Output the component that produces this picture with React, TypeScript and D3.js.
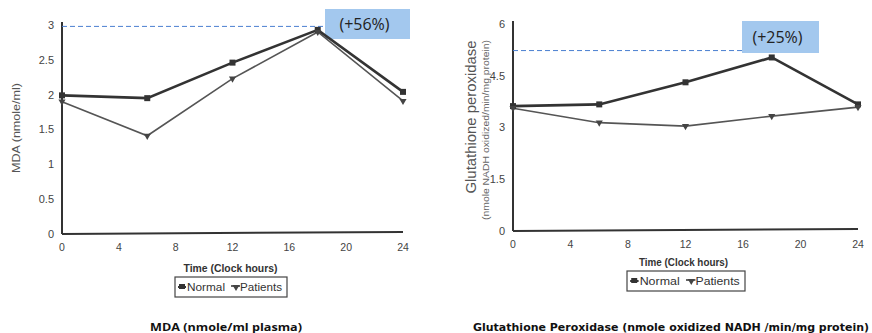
import React from "react";
import * as d3 from "d3";

// time points (clock hours)
const hours = [0, 6, 12, 18, 24];
const xTicks = [0, 4, 8, 12, 16, 20, 24];

// MDA (nmole/ml)
const mdaNormal = [1.99, 1.95, 2.46, 2.93, 2.04];
const mdaPatients = [1.9, 1.41, 2.23, 2.9, 1.91];
const mdaTicks = [0, 0.5, 1, 1.5, 2, 2.5, 3];
const mdaRefLevel = 2.98;

// Glutathione peroxidase
const gpxNormal = [3.62, 3.67, 4.31, 5.03, 3.67];
const gpxPatients = [3.56, 3.14, 3.04, 3.33, 3.59];
const gpxTicks = [0, 1.5, 3, 4.5, 6];
const gpxRefLevel = 5.23;

const tickFont = "'Liberation Sans Narrow', 'Liberation Sans', Arial, sans-serif";
const ink = "#333";

type PanelProps = {
  normal: number[];
  patients: number[];
  yTicks: number[];
  yMax: number;
  xRange: [number, number];
  yRange: [number, number];
  refLevel: number;
  refEnd: number;
  badge: { x: number; y: number; w: number; h: number; text: string };
  yLabel: string;
  yLabelX: number;
  yLabelLen: number;
  ySubLabel?: string;
  ySubLabelX?: number;
  yLabelY: number;
  xLabelY: number;
  xLabelLen: number;
  legend: { x: number; y: number; w: number; h: number };
  caption: string;
  captionX: number;
  captionLen: number;
  captionFont: string;
};

const Panel = (p: PanelProps) => {
  const x = d3.scaleLinear().domain([0, 24]).range(p.xRange);
  const y = d3.scaleLinear().domain([0, p.yMax]).range(p.yRange);
  const line = d3
    .line<number>()
    .x((_, i) => x(hours[i]))
    .y((d) => y(d));
  const x0 = x(0);
  const y0 = y(0);
  const xMid = (p.xRange[0] + p.xRange[1]) / 2;
  const tri = d3.symbol().type(d3.symbolTriangle).size(22)();
  const k = p.legend.w / 112;

  return (
    <g>
      {/* axes */}
      <line x1={x0} x2={x0} y1={y(p.yMax) - 3} y2={y0} stroke={ink} strokeWidth={2} />
      <line x1={x0} x2={x(24)} y1={y0} y2={y0 - 2} stroke={ink} strokeWidth={2} />
      {p.yTicks.map((t) => (
        <text key={t} x={x0 - 8} y={y(t)} dy="0.35em" textAnchor="end"
          fontFamily={tickFont} fontSize={11} fill="#444">{t}</text>
      ))}
      {xTicks.map((t) => (
        <text key={t} x={x(t)} y={y0 + 13} dy="0.35em" textAnchor="middle"
          fontFamily={tickFont} fontSize={10.5} fill="#444">{t}</text>
      ))}

      {/* reference dashed line + badge */}
      <line x1={x0} x2={p.refEnd} y1={y(p.refLevel)} y2={y(p.refLevel)}
        stroke="#4a7fd0" strokeWidth={1} strokeDasharray="5,3" />
      <rect x={p.badge.x} y={p.badge.y} width={p.badge.w} height={p.badge.h} fill="#a3c8ee" />
      <text x={p.badge.x + p.badge.w / 2 - 3} y={p.badge.y + p.badge.h / 2} dy="0.35em"
        textAnchor="middle" fontFamily="'Open Sans', sans-serif" fontSize={16} fill="#222">
        {p.badge.text}
      </text>

      {/* series */}
      <path d={line(p.patients) ?? ""} fill="none" stroke="#555" strokeWidth={1.6} />
      <path d={line(p.normal) ?? ""} fill="none" stroke={ink} strokeWidth={2.6} />
      {p.normal.map((v, i) => (
        <rect key={"n" + i} x={x(hours[i]) - 3} y={y(v) - 3} width={6} height={6} fill={ink} />
      ))}
      {p.patients.map((v, i) => (
        <path key={"p" + i} d={tri} transform={`translate(${x(hours[i])},${y(v)}) rotate(180)`} fill="#444" />
      ))}

      {/* axis labels */}
      <text transform={`translate(${p.yLabelX},${p.yLabelY}) rotate(-90)`} textAnchor="middle"
        fontFamily={tickFont} fontSize={p.ySubLabel ? 14 : 11} fill="#555"
        textLength={p.yLabelLen} lengthAdjust="spacingAndGlyphs">{p.yLabel}</text>
      {p.ySubLabel && (
        <text transform={`translate(${p.ySubLabelX},${p.yLabelY + 13}) rotate(-90)`} textAnchor="middle"
          fontFamily={tickFont} fontSize={9} fill="#666" textLength={180}
          lengthAdjust="spacingAndGlyphs">{p.ySubLabel}</text>
      )}
      <text x={xMid - 2} y={p.xLabelY} dy="0.35em" textAnchor="middle"
        fontFamily={tickFont} fontSize={11.5} fontWeight="bold" fill="#333"
        textLength={p.xLabelLen} lengthAdjust="spacingAndGlyphs">Time (Clock hours)</text>

      {/* legend */}
      <rect x={p.legend.x} y={p.legend.y} width={p.legend.w} height={p.legend.h}
        fill="none" stroke="#444" strokeWidth={1.2} />
      <g transform={`translate(${p.legend.x},${p.legend.y + p.legend.h / 2})`}>
        <line x1={3 * k} x2={11 * k} y1={0} y2={0} stroke={ink} strokeWidth={2} />
        <rect x={4 * k} y={-3} width={6} height={5} fill={ink} />
        <text x={12 * k} dy="0.35em" fontFamily={tickFont} fontSize={11.5} fill="#333"
          textLength={38 * k} lengthAdjust="spacingAndGlyphs">Normal</text>
        <line x1={56 * k} x2={65 * k} y1={-1} y2={-1} stroke={ink} strokeWidth={1.5} />
        <path d={tri} transform={`translate(${61 * k},0) rotate(180)`} fill="#444" />
        <text x={65 * k} dy="0.35em" fontFamily={tickFont} fontSize={11.5} fill="#333"
          textLength={42 * k} lengthAdjust="spacingAndGlyphs">Patients</text>
      </g>

      {/* caption */}
      <text x={p.captionX} y={327} dy="0.35em" fontFamily={p.captionFont} fontSize={11}
        fontWeight="bold" fill="#111" textLength={p.captionLen} lengthAdjust="spacingAndGlyphs">
        {p.caption}
      </text>
    </g>
  );
};

export default function App() {
  return (
    <svg width={872} height={333} style={{ position: "absolute", left: 0, top: 0, background: "#fff" }}>
      <Panel
        normal={mdaNormal}
        patients={mdaPatients}
        yTicks={mdaTicks}
        yMax={3}
        xRange={[62, 403]}
        yRange={[234, 25]}
        refLevel={mdaRefLevel}
        refEnd={325}
        badge={{ x: 325, y: 9, w: 85, h: 30, text: "(+56%)" }}
        yLabel="MDA (nmole/ml)"
        yLabelX={20}
        yLabelLen={90}
        yLabelY={128}
        xLabelY={268}
        xLabelLen={94}
        legend={{ x: 175, y: 277, w: 112, h: 20 }}
        caption="MDA (nmole/ml plasma)"
        captionX={150}
        captionLen={152}
        captionFont="'Open Sans', sans-serif"
      />
      <Panel
        normal={gpxNormal}
        patients={gpxPatients}
        yTicks={gpxTicks}
        yMax={6}
        xRange={[513, 858]}
        yRange={[231, 24]}
        refLevel={gpxRefLevel}
        refEnd={742}
        badge={{ x: 742, y: 21, w: 77, h: 32, text: "(+25%)" }}
        yLabel="Glutathione peroxidase"
        yLabelX={476}
        yLabelLen={153}
        ySubLabel="(nmole NADH oxidized/min/mg protein)"
        ySubLabelX={489}
        yLabelY={117}
        xLabelY={262}
        xLabelLen={89}
        legend={{ x: 627, y: 271, w: 118, h: 20 }}
        caption="Glutathione Peroxidase  (nmole oxidized NADH /min/mg protein)"
        captionX={473}
        captionLen={396}
        captionFont="'DejaVu Sans', Verdana, sans-serif"
      />
    </svg>
  );
}
